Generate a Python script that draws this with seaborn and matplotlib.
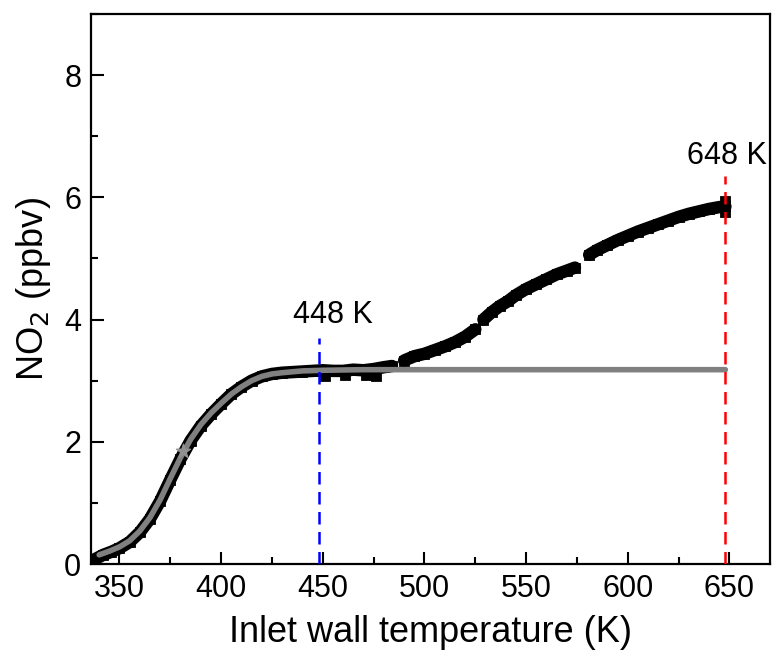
import numpy as np
import pandas as pd
import matplotlib
matplotlib.use("Agg")
import matplotlib.pyplot as plt
import seaborn as sns
from matplotlib.ticker import MultipleLocator

# Measured NO2 (ppbv) vs inlet wall temperature (K), in four recorded segments
seg1_T = [338, 342, 346, 350, 355, 360, 365, 370, 375, 380, 385, 390, 395, 400, 405,
          410, 415, 420, 425, 430, 435, 440, 445, 450, 455, 460, 465, 470, 475, 480, 484]
seg1_NO2 = [0.08, 0.15, 0.20, 0.26, 0.36, 0.52, 0.74, 1.03, 1.38, 1.72, 2.02, 2.26, 2.45, 2.62, 2.78,
            2.90, 3.00, 3.07, 3.11, 3.13, 3.14, 3.15, 3.16, 3.17, 3.16, 3.16, 3.18, 3.17, 3.19, 3.22, 3.24]
seg2_T = [490, 495, 500, 505, 510, 515, 520, 525]
seg2_NO2 = [3.33, 3.40, 3.44, 3.50, 3.56, 3.63, 3.72, 3.84]
seg3_T = [529, 533, 537, 541, 545, 550, 555, 560, 565, 570, 574]
seg3_NO2 = [4.00, 4.12, 4.22, 4.30, 4.40, 4.50, 4.58, 4.66, 4.74, 4.80, 4.85]
seg4_T = [581, 585, 590, 595, 600, 605, 610, 615, 620, 625, 630, 635, 640, 645, 648]
seg4_NO2 = [5.06, 5.14, 5.22, 5.30, 5.37, 5.44, 5.50, 5.56, 5.62, 5.68, 5.73, 5.77, 5.81, 5.84, 5.85]

# scattered noisy points on the plateau
noise_T = [451, 461, 471, 476]
noise_NO2 = [3.08, 3.10, 3.09, 3.07]
end_T = [648, 648, 648]
end_NO2 = [5.76, 5.85, 5.94]

# Sigmoid fit (grey line)
fit_T = [340, 345, 350, 355, 360, 365, 370, 375, 380, 385, 390, 395, 400, 405, 410,
         415, 420, 425, 430, 440, 450, 470, 500, 550, 600, 648]
fit_NO2 = [0.15, 0.21, 0.28, 0.38, 0.54, 0.76, 1.05, 1.40, 1.74, 2.04, 2.28, 2.47, 2.63, 2.78, 2.90,
           3.00, 3.07, 3.11, 3.13, 3.16, 3.17, 3.18, 3.18, 3.18, 3.18, 3.18]

marker_T = [381]
marker_NO2 = [1.85]

vline_T = [448, 648]
vline_top = [3.7, 6.35]
vline_colors = ["blue", "red"]
vline_labels = ["448 K", "648 K"]
label_pos_T = [455, 649]
label_pos_y = [3.95, 6.55]

segs = []
for i, (T, v) in enumerate([(seg1_T, seg1_NO2), (seg2_T, seg2_NO2), (seg3_T, seg3_NO2), (seg4_T, seg4_NO2)]):
    segs.append(pd.DataFrame({"T": T, "NO2": v, "seg": i}))
df = pd.concat(segs, ignore_index=True)
df_pts = pd.concat([df[["T", "NO2"]],
                    pd.DataFrame({"T": noise_T + end_T, "NO2": noise_NO2 + end_NO2})],
                   ignore_index=True)
df_fit = pd.DataFrame({"T": fit_T, "NO2": fit_NO2})

sns.set_style("white")
plt.rcParams["font.family"] = ["Liberation Sans", "DejaVu Sans"]
plt.rcParams["text.color"] = "black"
plt.rcParams["axes.labelcolor"] = "black"

fig = plt.figure(figsize=(7.74, 6.63), dpi=100)
ax = fig.add_axes([0.1176, 0.1493, 0.8774, 0.8296])

sns.lineplot(data=df, x="T", y="NO2", units="seg", estimator=None, sort=False,
             color="black", lw=9, ax=ax, legend=False)
sns.scatterplot(data=df_pts, x="T", y="NO2", marker="s", s=55, color="black",
                edgecolor="black", ax=ax, legend=False, zorder=3)
sns.lineplot(data=df_fit, x="T", y="NO2", color="#808080", lw=4, ax=ax,
             legend=False, zorder=4)
ax.scatter(marker_T, marker_NO2, marker="*", s=110, color="#909090", zorder=4)

for T, top, c, lab, lx, ly in zip(vline_T, vline_top, vline_colors, vline_labels, label_pos_T, label_pos_y):
    ax.plot([T, T], [0, top], color=c, lw=1.8, ls=(0, (5, 3)), zorder=5)
    ax.text(lx, ly, lab, ha="center", va="baseline", fontsize=22, color="black")

ax.set_xlim(336, 670)
ax.set_ylim(0, 9)
ax.xaxis.set_major_locator(MultipleLocator(50))
ax.xaxis.set_minor_locator(MultipleLocator(25))
ax.yaxis.set_major_locator(MultipleLocator(2))
ax.yaxis.set_minor_locator(MultipleLocator(1))
ax.tick_params(which="both", direction="in", bottom=True, left=True, top=False, right=False,
               width=1.5, labelsize=22, colors="black")
ax.tick_params(which="major", length=9, pad=7)
ax.tick_params(which="minor", length=5)
for s in ax.spines.values():
    s.set_visible(True)
    s.set_color("black")
    s.set_linewidth(1.6)

ax.set_xlabel("Inlet wall temperature (K)", fontsize=26, labelpad=8)
ax.set_ylabel(r"NO$_2$ (ppbv)", fontsize=26, labelpad=8)

fig.savefig("out.png", dpi=100)
